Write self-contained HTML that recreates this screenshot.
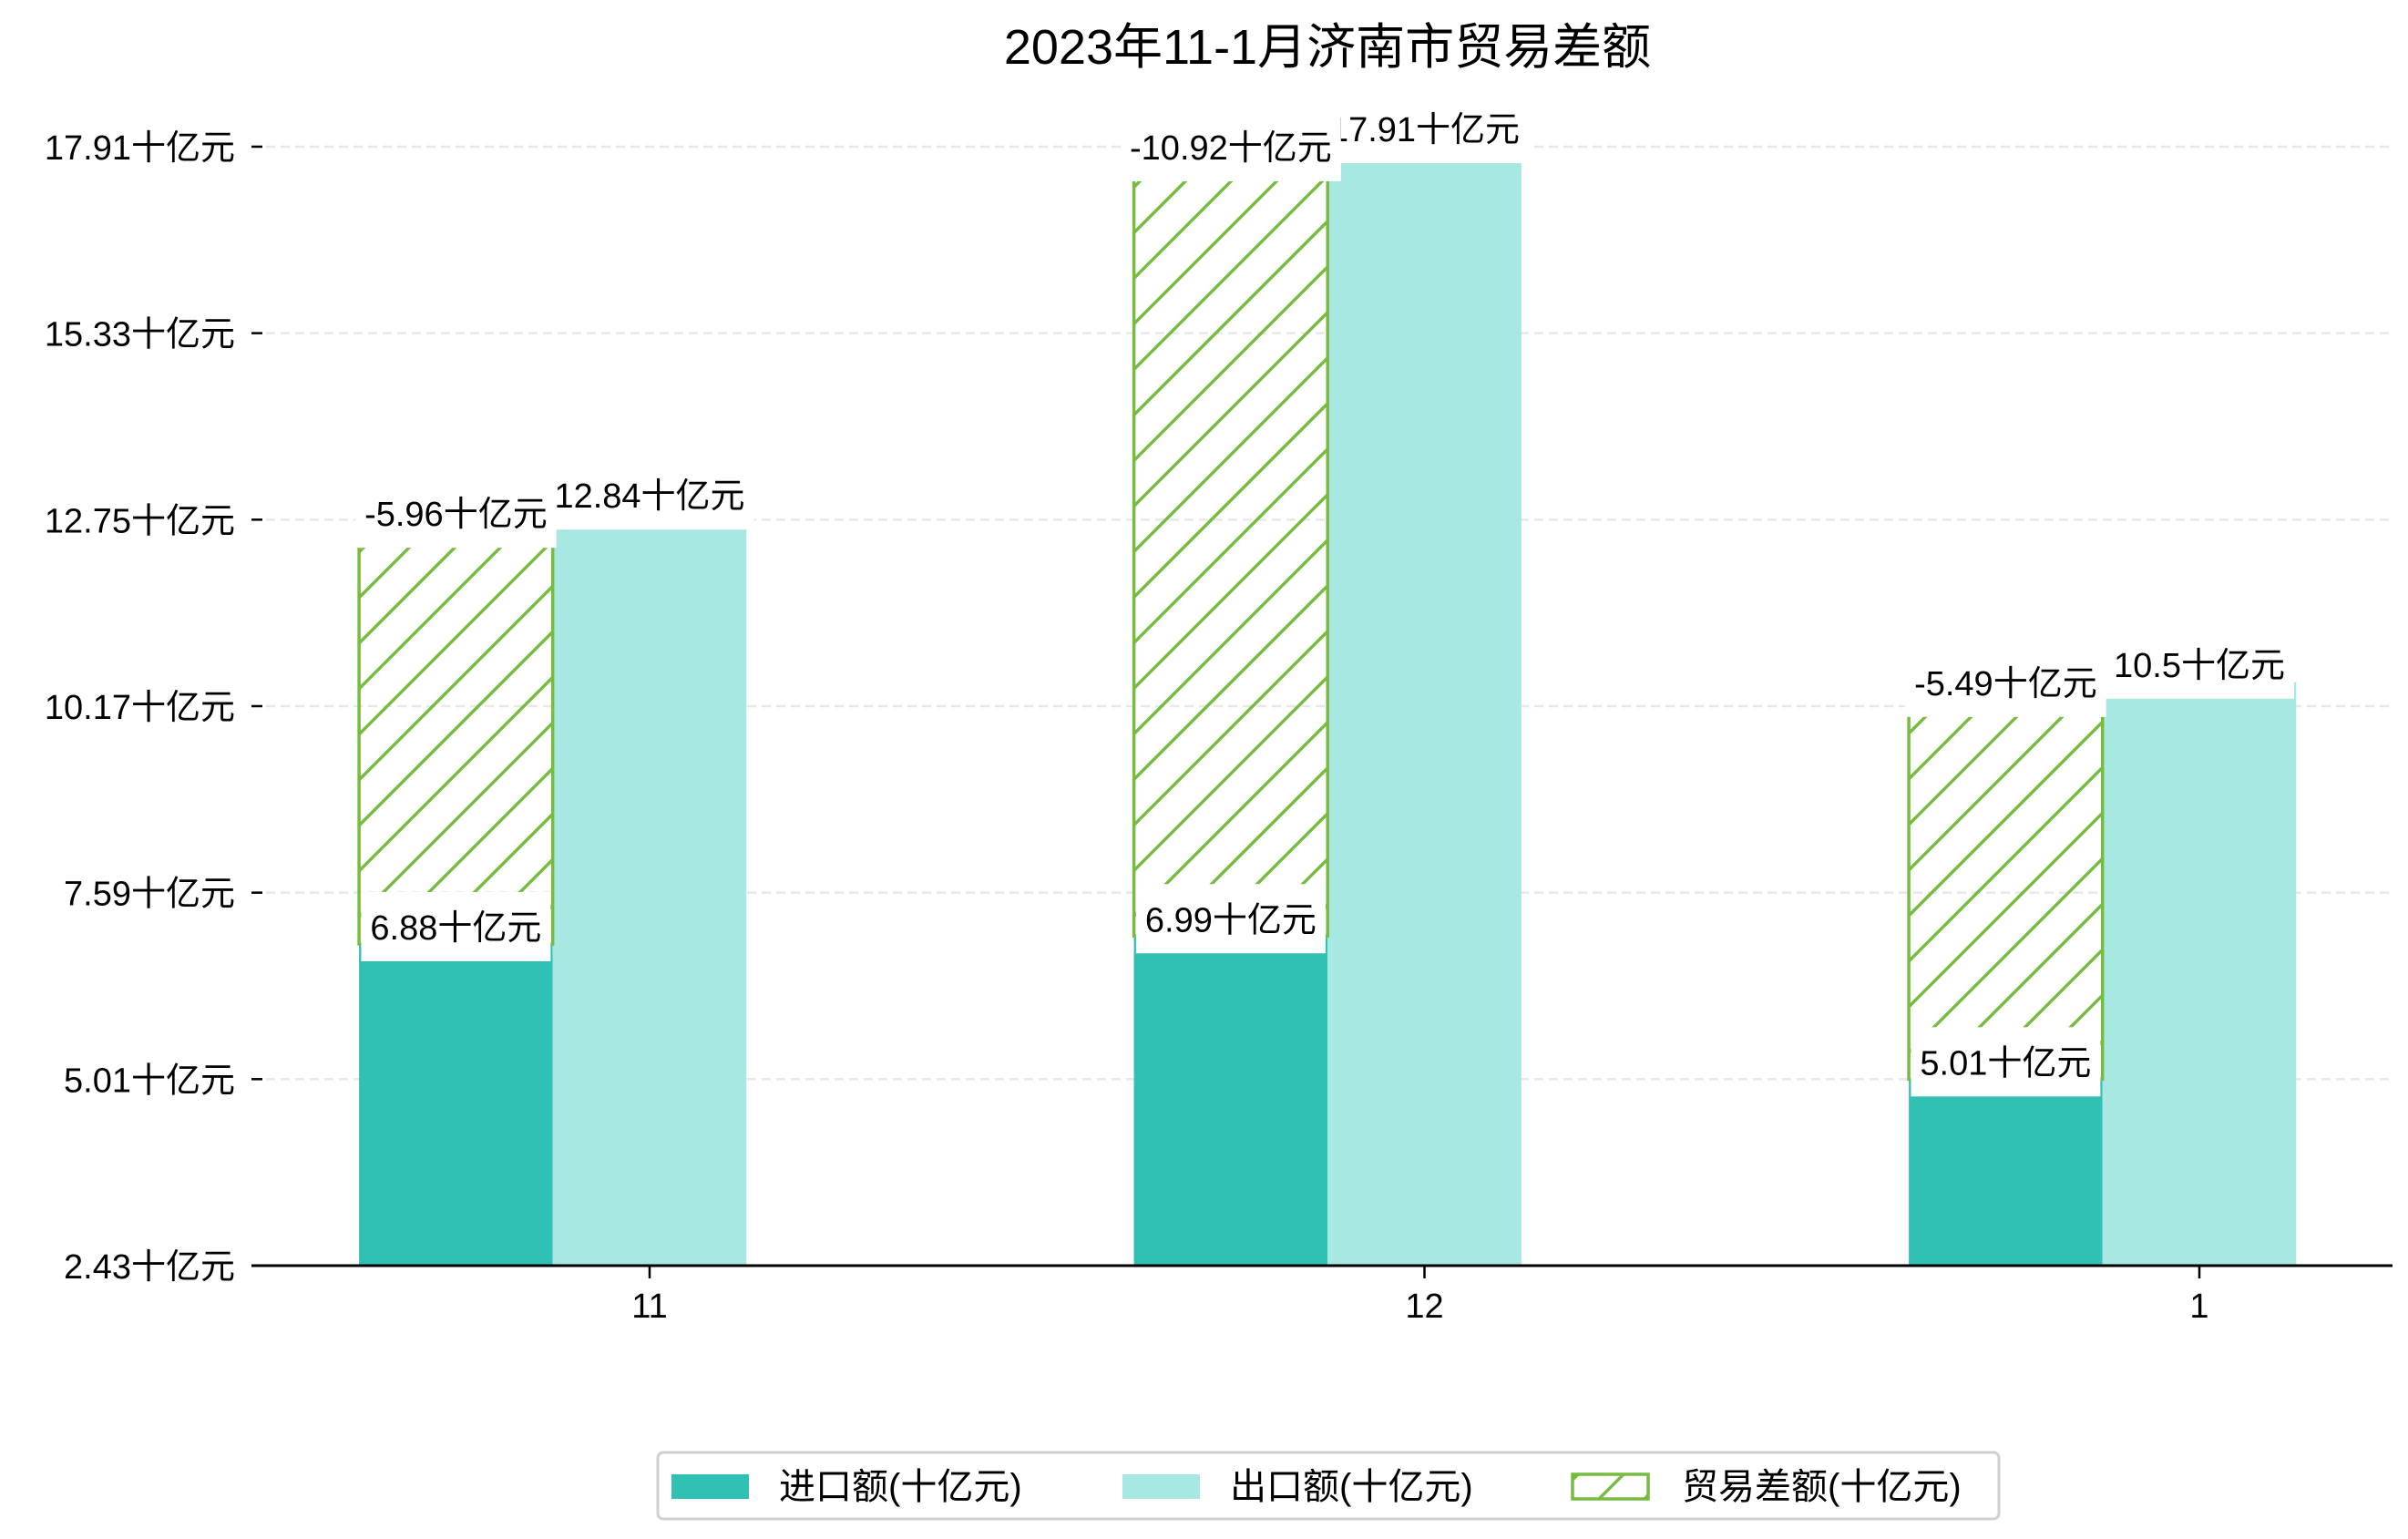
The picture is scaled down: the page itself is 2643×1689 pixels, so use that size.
<!DOCTYPE html>
<html><head><meta charset="utf-8">
<style>
html,body{margin:0;padding:0;background:#fff;}
svg{display:block;font-family:"Liberation Sans","WenQuanYi Zen Hei","Noto Sans CJK SC",sans-serif;}
</style></head>
<body>
<svg id="chart" width="2643" height="1689" viewBox="0 0 2643 1689" xmlns="http://www.w3.org/2000/svg">
<defs>
<pattern id="hatch" patternUnits="userSpaceOnUse" width="50" height="50">
<path d="M-5,55 L55,-5 M-30,30 L30,-30 M20,80 L80,20" stroke="#77BB41" stroke-width="3.5"/>
</pattern>
</defs>
<text x="1457" y="70" font-size="54" text-anchor="middle" fill="#000">2023年11-1月济南市贸易差额</text>
<g id="grid"></g><g id="bars"></g><g id="labels"></g><g id="axes"></g>
<g>
<rect x="722" y="1594" width="1472" height="73" rx="6" fill="#fff" stroke="#d0d0d0" stroke-width="3"/>
<rect x="737" y="1618" width="85" height="27" fill="#30C0B4"/>
<text x="855" y="1645" font-size="40">进口额(十亿元)</text>
<rect x="1232" y="1618" width="85" height="27" fill="#A8E8E2"/>
<text x="1350" y="1645" font-size="40">出口额(十亿元)</text>
<rect x="1726" y="1618" width="83" height="27" fill="url(#hatch)" stroke="#77BB41" stroke-width="3.5"/>
<text x="1846" y="1645" font-size="40">贸易差额(十亿元)</text>
</g>
</svg>
<script>
const categories = ["11", "12", "1"];
const importVals = [6.88, 6.99, 5.01];
const exportVals = [12.84, 17.91, 10.5];
const balanceVals = [-5.96, -10.92, -5.49];
const yTicks = [2.43, 5.01, 7.59, 10.17, 12.75, 15.33, 17.91];

const NS = "http://www.w3.org/2000/svg";
const axL = 276, axR = 2626, axB = 1389;
const y0 = 2.43, pxPerUnit = 79.33;
const yScale = v => axB - (v - y0) * pxPerUnit;
const xCenter = i => 713 + 850.5 * i;
const bw = 212.6;
function mk(tag, attrs, parent){const e=document.createElementNS(NS,tag);for(const k in attrs)e.setAttribute(k,attrs[k]);parent.appendChild(e);return e;}
const grid=document.getElementById('grid'), bars=document.getElementById('bars'), labels=document.getElementById('labels'), axes=document.getElementById('axes');

yTicks.forEach((t,i)=>{
  const y=yScale(t);
  if(i>0){const g=mk('line',{x1:axL,x2:axR,y1:y,y2:y,stroke:'#e8e8e8','stroke-width':2.5,'stroke-dasharray':'10,6'},grid);
  
  }
  const tk=mk('line',{x1:axL,x2:axL+12,y1:y,y2:y,stroke:'#000','stroke-width':2.5},axes);
  
  
  const tl=mk('text',{x:258,y:y+14,'font-size':38,'text-anchor':'end'},axes);
  tl.textContent=t.toFixed(2)+'十亿元';
  
  
});
const base=mk('line',{x1:axL,x2:axR,y1:axB,y2:axB,stroke:'#000','stroke-width':3},axes);



function label(text,cx,cy,name){
  const g=mk('g',{},labels);
  
  
  const r=mk('rect',{fill:'#fff'},g);
  const t=mk('text',{x:cx,y:cy+14,'font-size':38,'text-anchor':'middle'},g);
  t.textContent=text;
  const bb=t.getBBox();
  r.setAttribute('x',bb.x-10);r.setAttribute('width',bb.width+20);
  r.setAttribute('y',cy-38);r.setAttribute('height',76);
}

categories.forEach((c,i)=>{
  const cx=xCenter(i);
  const xi=cx-1.5*bw, xe=cx-0.5*bw;
  const yi=yScale(importVals[i]), ye=yScale(exportVals[i]);
  const bi=mk('rect',{x:xi,y:yi,width:bw,height:axB-yi,fill:'#30C0B4'},bars);
  
  
  const be=mk('rect',{x:xe,y:ye,width:bw,height:axB-ye,fill:'#A8E8E2'},bars);
  
  
  const top=importVals[i]+Math.abs(balanceVals[i]);
  const yh=yScale(top);
  const bh=mk('rect',{x:xi,y:yh,width:bw,height:yi-yh,fill:'url(#hatch)',stroke:'#77BB41','stroke-width':3.5},bars);
  
  
  const xt=mk('line',{x1:cx,x2:cx,y1:axB,y2:axB+14,stroke:'#000','stroke-width':2.5},axes);
  
  
  const xl=mk('text',{x:cx,y:1446,'font-size':38,'text-anchor':'middle'},axes);
  xl.textContent=c;
  
  
});
categories.forEach((c,i)=>{
  const cx=xCenter(i);
  label(exportVals[i]+'十亿元',cx,yScale(exportVals[i])-20,'export-value-label');
  label(balanceVals[i]+'十亿元',cx-bw,yScale(importVals[i]+Math.abs(balanceVals[i])),'balance-value-label');
  label(importVals[i]+'十亿元',cx-bw,yScale(importVals[i])-19,'import-value-label');
});
</script>
</body></html>
